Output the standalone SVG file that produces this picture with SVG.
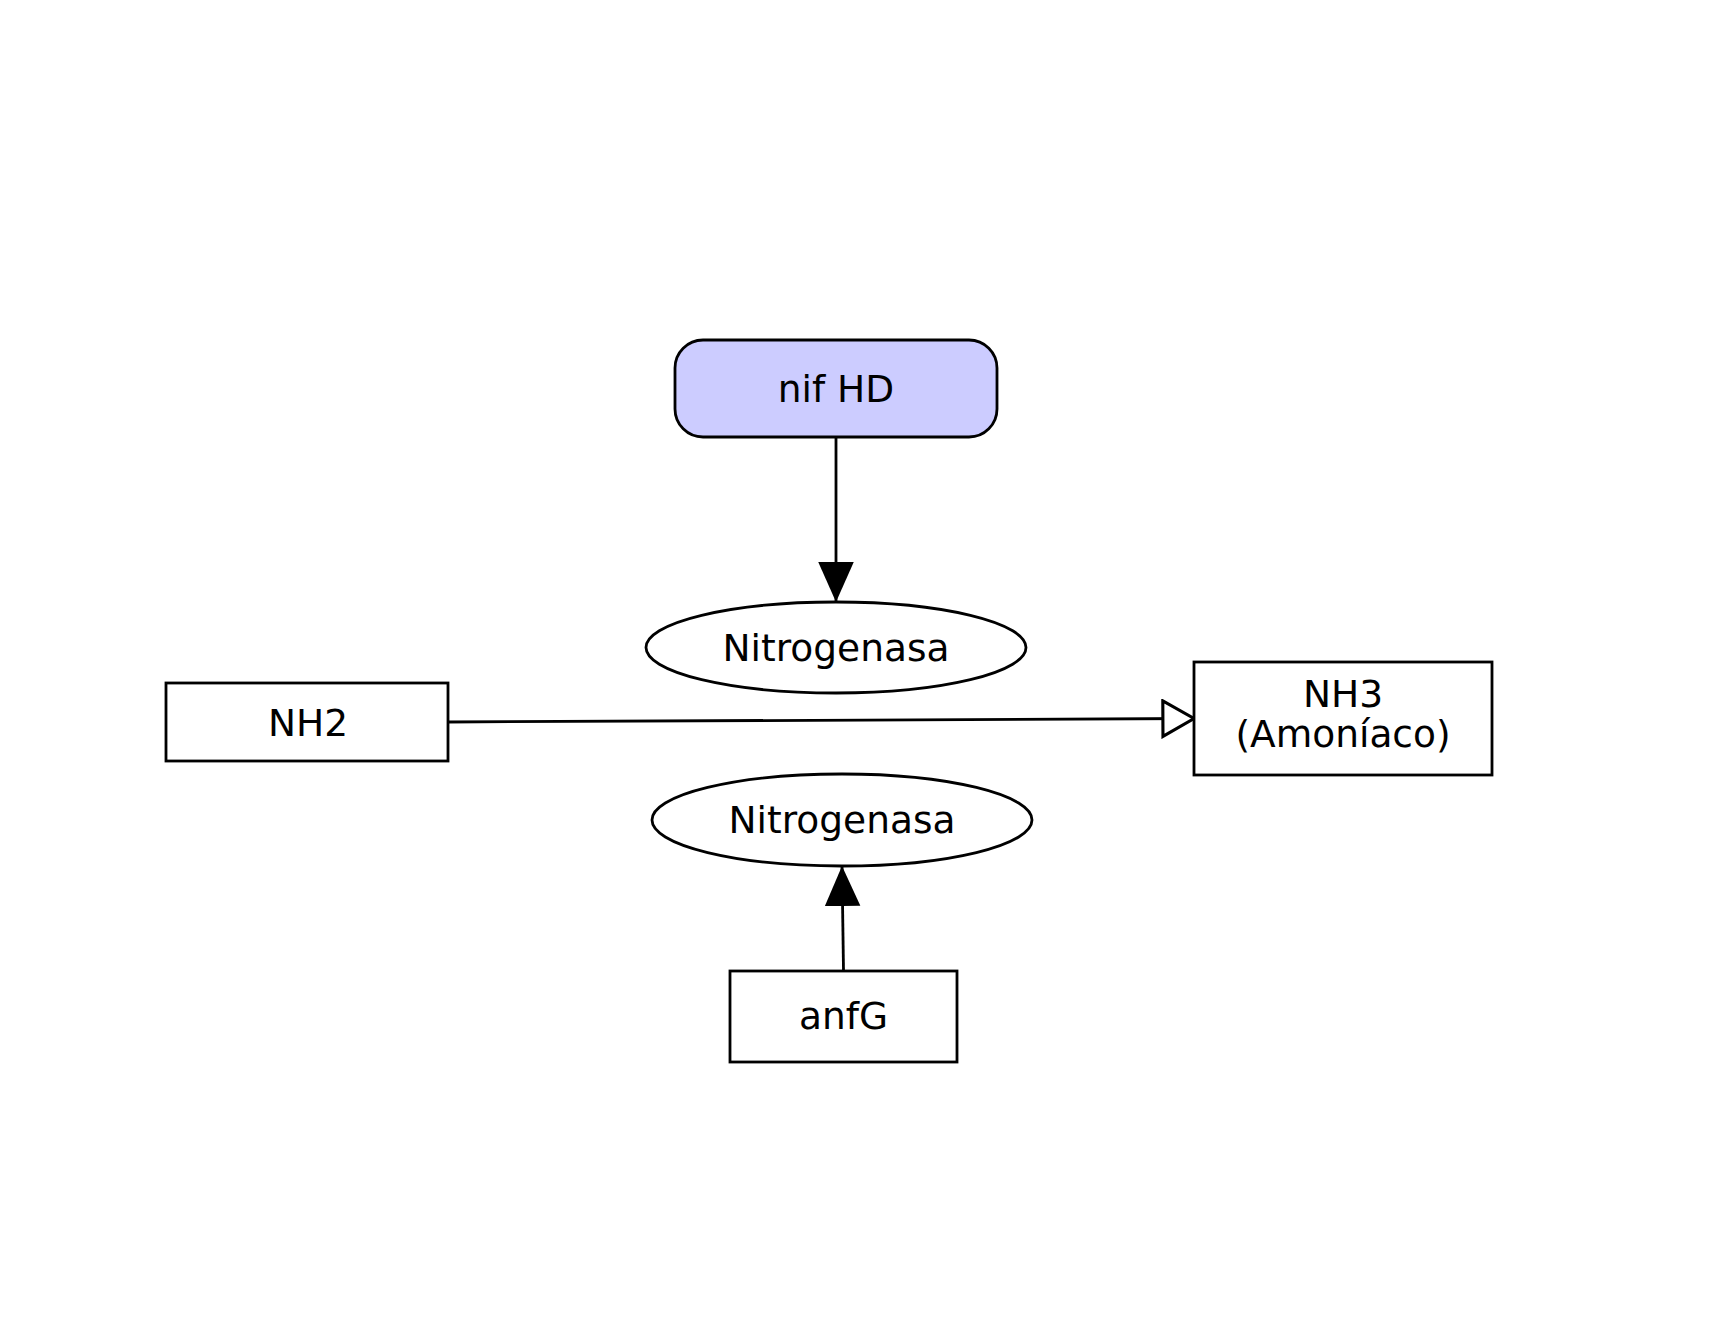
<svg xmlns="http://www.w3.org/2000/svg" width="1719" height="1341" viewBox="0 0 1719 1341">
<style>
.s{fill:#fff;stroke:#000;stroke-width:2.8}
.t{font-family:"DejaVu Sans",sans-serif;font-size:37.5px;fill:#000;text-anchor:middle}
.e{fill:none;stroke:#000;stroke-width:2.8}
</style>
<defs>
<marker id="fa" markerUnits="userSpaceOnUse" markerWidth="40" markerHeight="40" viewBox="0 0 36 32" refX="36" refY="16" orient="auto">
<path d="M0,0 L36,16 L0,32 Z" fill="#000"/>
</marker>
<marker id="oa" markerUnits="userSpaceOnUse" markerWidth="40" markerHeight="40" viewBox="-2 -2 32 36" refX="28" refY="16" orient="auto">
<path d="M0,0 L28,16 L0,32 Z" fill="#fff" stroke="#000" stroke-width="2.8"/>
</marker>
</defs>
<rect width="1719" height="1341" fill="#fff"/>
<g id="connectors">
<line class="e" x1="836" y1="438" x2="836" y2="602" marker-end="url(#fa)"/>
<line class="e" x1="448" y1="722" x2="1194" y2="718.5" marker-end="url(#oa)"/>
<line class="e" x1="843.5" y1="971" x2="842" y2="866" marker-end="url(#fa)"/>
</g>
<g id="nifHD">
<rect x="675" y="340" width="322" height="97" rx="28" ry="28" fill="#ccccff" stroke="#000" stroke-width="2.8"/>
<text class="t" x="836" y="401.5">nif HD</text>
</g>
<g id="nitrogenasa1">
<ellipse class="s" cx="836" cy="647.5" rx="190" ry="45.5"/>
<text class="t" x="836" y="660.5">Nitrogenasa</text>
</g>
<g id="NH2">
<rect class="s" x="166" y="683" width="282" height="78"/>
<text class="t" x="308" y="735.5">NH2</text>
</g>
<g id="NH3">
<rect class="s" x="1194" y="662" width="298" height="113"/>
<text class="t" x="1343" y="707">NH3</text>
<text class="t" x="1343" y="747">(Amoníaco)</text>
</g>
<g id="nitrogenasa2">
<ellipse class="s" cx="842" cy="820" rx="190" ry="46"/>
<text class="t" x="842" y="832.5">Nitrogenasa</text>
</g>
<g id="anfG">
<rect class="s" x="730" y="971" width="227" height="91"/>
<text class="t" x="843.5" y="1028.5">anfG</text>
</g>
</svg>
